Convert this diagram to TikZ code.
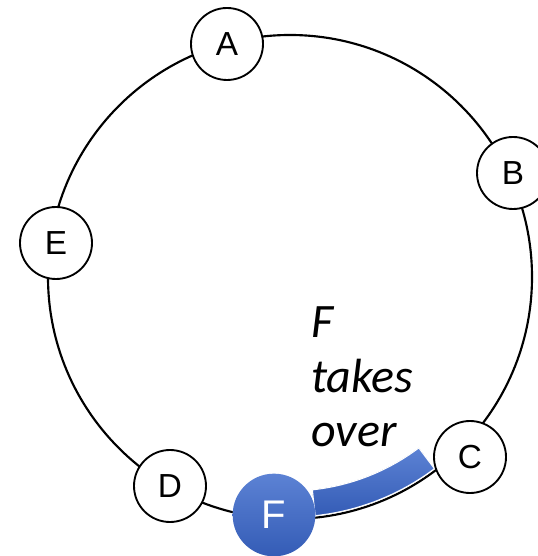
\documentclass[tikz,border=0pt]{standalone}
\usepackage{fontspec}
\setmainfont{Liberation Sans}
\newfontfamily\calibri{Carlito}
\usetikzlibrary{calc}
\definecolor{ftop}{RGB}{92,130,212}
\definecolor{fbottom}{RGB}{52,92,182}
\begin{document}
\begin{tikzpicture}[x=0.75pt,y=0.75pt,
    peer/.style={circle,draw,line width=1.4pt,fill=white,minimum size=54pt,inner sep=0pt,
        font=\fontsize{25}{25}\selectfont}]
    \useasboundingbox (0,0) rectangle (538,556);
    \coordinate (O) at (290,279);
    \draw[line width=1.6pt] (O) circle (242);
    \fill[top color=ftop, bottom color=fbottom, draw=white, line width=0.8pt]
        ($(O)+(-84:214)$) arc[start angle=-84, end angle=-53, radius=214]
        -- ($(O)+(-53:240)$) arc[start angle=-53, end angle=-84, radius=240] -- cycle;
    \foreach \n/\x/\y in {A/227/512,B/513/383,C/470/99,D/170/70,E/56/313} {
        \node[peer] (\n) at (\x,\y) {\n};
    }
    \node[peer, draw=none, top color=ftop, bottom color=fbottom, text=white, minimum size=62pt,
        font=\fontsize{30}{30}\selectfont] (F) at (274,41) {F};
    \node[anchor=base west, align=left, inner sep=0pt,
        font=\calibri\itshape\fontsize{36}{41}\selectfont] (note) at (311,109) {F\\takes\\over};
\end{tikzpicture}
\end{document}
